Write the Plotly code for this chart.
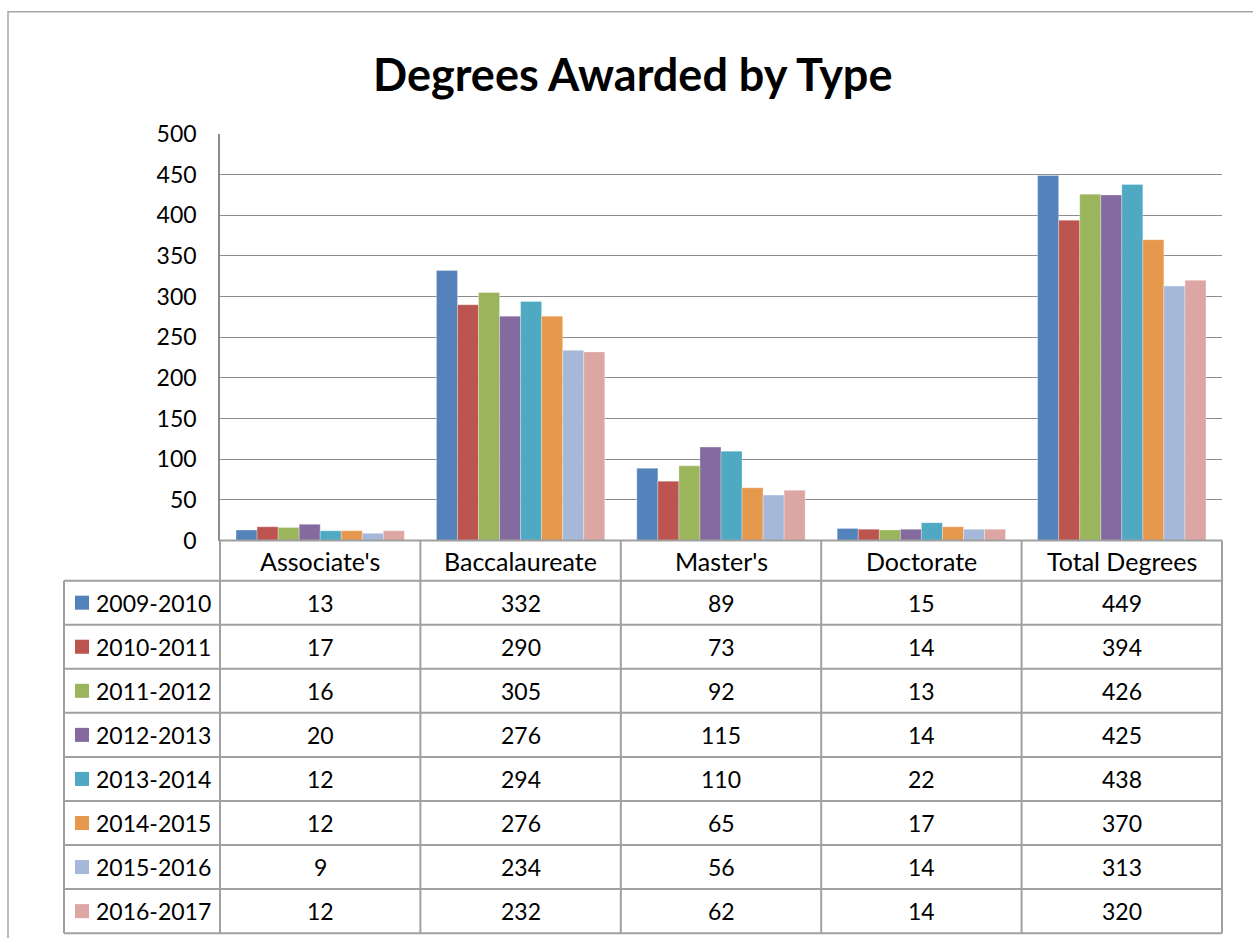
import plotly.graph_objects as go

categories = ["Associate's", "Baccalaureate", "Master's", "Doctorate", "Total Degrees"]
years = ["2009-2010", "2010-2011", "2011-2012", "2012-2013",
         "2013-2014", "2014-2015", "2015-2016", "2016-2017"]
v2009 = [13, 332, 89, 15, 449]
v2010 = [17, 290, 73, 14, 394]
v2011 = [16, 305, 92, 13, 426]
v2012 = [20, 276, 115, 14, 425]
v2013 = [12, 294, 110, 22, 438]
v2014 = [12, 276, 65, 17, 370]
v2015 = [9, 234, 56, 14, 313]
v2016 = [12, 232, 62, 14, 320]
series = [v2009, v2010, v2011, v2012, v2013, v2014, v2015, v2016]
colors = ["#5482BA", "#BC5450", "#9BB55D", "#856A9F", "#4FA9C2", "#E6984D", "#A5B8DA", "#DCA6A3"]
y_ticks = [0, 50, 100, 150, 200, 250, 300, 350, 400, 450, 500]

W, H = 1253, 938
FONT = "Lato"
PX_L, PX_R = 220, 1222
PY_T, PY_B = 134, 540
HDR_B = 580
ROW_H = 44
TBL_L = 64
LINE = "#A0A0A0"

# the page photo is slightly squeezed vertically and shifted; compensate
SY, OY = 0.9687, 15.2


def px(x):
    return x / W


def py(y):
    yf = (y - OY) / SY
    return 1 - yf / H


fig = go.Figure()
for name, vals, col in zip(years, series, colors):
    fig.add_trace(go.Bar(x=categories, y=vals, name=name,
                         marker=dict(color=col, line=dict(width=0.6, color="rgba(255,255,255,0.5)"))))

shapes = []
annotations = []

# outer chart border
shapes.append(dict(type="rect", xref="paper", yref="paper", x0=px(8), x1=px(1300), y0=py(12), y1=py(1000),
                   line=dict(color="#A6A6A6", width=1.5), fillcolor="rgba(0,0,0,0)", layer="below"))

n_rows = len(years)
bottom = HDR_B + ROW_H * n_rows
col_w = (PX_R - PX_L) / len(categories)

# horizontal table lines
shapes.append(dict(type="line", xref="paper", yref="paper", x0=px(PX_L), x1=px(PX_R), y0=py(PY_B), y1=py(PY_B),
                   line=dict(color=LINE, width=2)))
for k in range(n_rows + 1):
    yy = HDR_B + ROW_H * k
    shapes.append(dict(type="line", xref="paper", yref="paper", x0=px(TBL_L), x1=px(PX_R), y0=py(yy), y1=py(yy),
                       line=dict(color=LINE, width=2)))
# vertical table lines
shapes.append(dict(type="line", xref="paper", yref="paper", x0=px(TBL_L), x1=px(TBL_L), y0=py(HDR_B), y1=py(bottom),
                   line=dict(color=LINE, width=2)))
for j in range(len(categories) + 1):
    xx = PX_L + col_w * j
    shapes.append(dict(type="line", xref="paper", yref="paper", x0=px(xx), x1=px(xx), y0=py(PY_B), y1=py(bottom),
                       line=dict(color=LINE, width=2)))

# header labels
for j, c in enumerate(categories):
    annotations.append(dict(text=c, xref="paper", yref="paper", x=px(PX_L + col_w * (j + 0.5)),
                            y=py((PY_B + HDR_B) / 2), xanchor="center", yanchor="middle", showarrow=False,
                            font=dict(family=FONT, size=25, color="black")))

# rows
for i, (name, vals, col) in enumerate(zip(years, series, colors)):
    cy = HDR_B + ROW_H * (i + 0.5)
    shapes.append(dict(type="rect", xref="paper", yref="paper", x0=px(75), x1=px(89), y0=py(cy - 7), y1=py(cy + 7),
                       line=dict(width=0), fillcolor=col))
    annotations.append(dict(text=name, xref="paper", yref="paper", x=px(94), y=py(cy),
                            xanchor="left", yanchor="middle", showarrow=False,
                            font=dict(family=FONT, size=23, color="black")))
    for j, v in enumerate(vals):
        annotations.append(dict(text=str(v), xref="paper", yref="paper", x=px(PX_L + col_w * (j + 0.5)), y=py(cy),
                                xanchor="center", yanchor="middle", showarrow=False,
                                font=dict(family=FONT, size=23, color="black")))

# title
annotations.append(dict(text="<b>Degrees Awarded by Type</b>", xref="paper", yref="paper", x=px(632), y=py(74),
                        xanchor="center", yanchor="middle", showarrow=False,
                        font=dict(family=FONT, size=45, color="black")))

fig.update_layout(
    width=W, height=H,
    margin=dict(l=0, r=0, t=0, b=0),
    paper_bgcolor="white", plot_bgcolor="white",
    showlegend=False,
    barmode="group", bargap=0.16, bargroupgap=0,
    shapes=shapes, annotations=annotations,
    font=dict(family=FONT, size=23, color="black"),
    xaxis=dict(domain=[px(PX_L), px(PX_R)], showticklabels=False, showgrid=False, zeroline=False,
               showline=False, ticks=""),
    yaxis=dict(domain=[py(PY_B), py(PY_T)], range=[0, 500], tickvals=y_ticks, showgrid=True,
               gridcolor="#8C8C8C", gridwidth=1, zeroline=False, showline=True, linecolor="#8C8C8C",
               linewidth=1.5, ticks="", ticklabelstandoff=17,
               tickfont=dict(family=FONT, size=23, color="black")),
)

fig.write_html("out.html", config={"displayModeBar": False},
               post_script="document.body.style.margin='0';document.body.style.padding='0';"
                           "document.body.style.overflow='hidden';")
